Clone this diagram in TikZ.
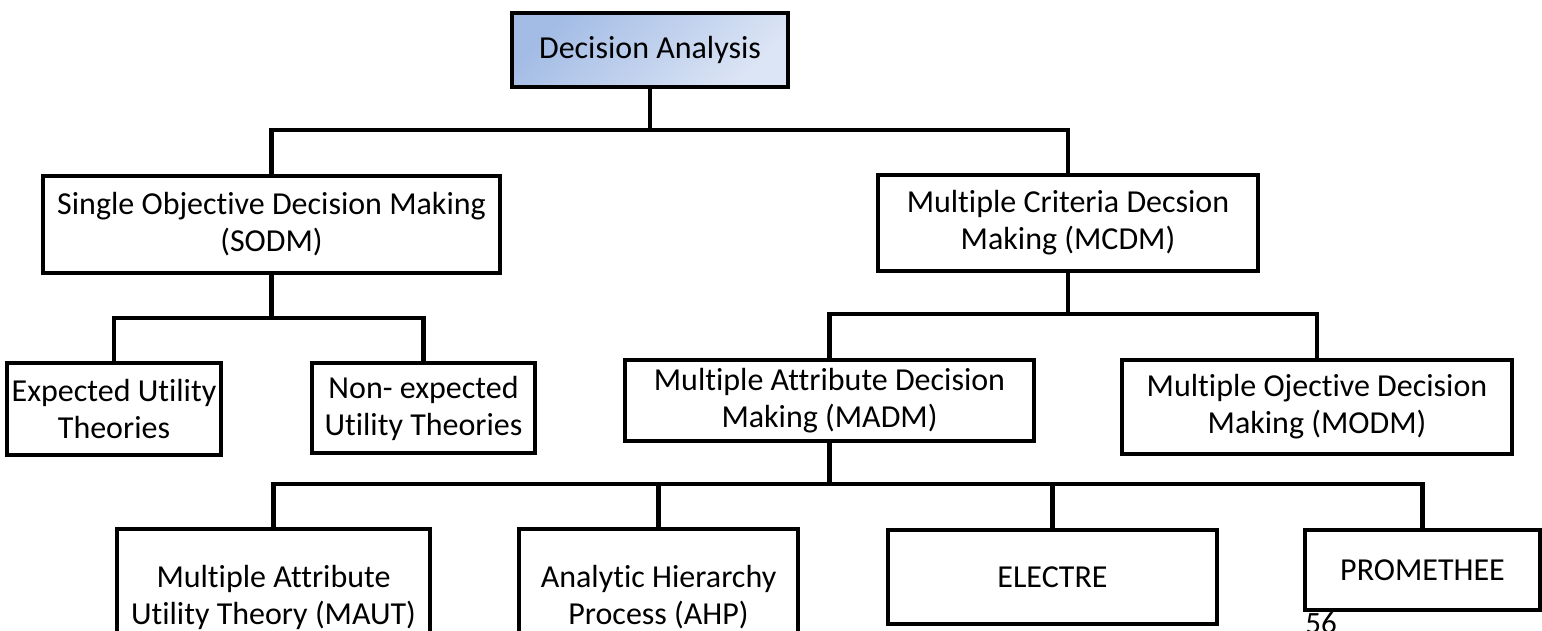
\documentclass[tikz,border=0pt]{standalone}
\usepackage{fontspec}
\setmainfont{Carlito}[Ligatures=NoCommon]
\definecolor{topdark}{RGB}{163,188,229}
\definecolor{toplight}{RGB}{220,229,245}
\begin{document}
\begin{tikzpicture}[x=1pt,y=-1pt,
  box/.style={draw=black, line width=4pt, fill=white, inner sep=0pt, outer sep=0pt,
    align=center, font=\fontsize{32}{37}\selectfont},
  conn/.style={draw=black, line width=4.5pt}]
\useasboundingbox (0,0) rectangle (1542,630);

% page number sitting under the last box
\node[anchor=base, font=\fontsize{31}{31}\selectfont] (pg) at (1321,633) {56};

% root
\node[box, minimum width=276pt, minimum height=74pt,
  top color=topdark, bottom color=toplight, shading angle=45] (root) at (650,50) {Decision Analysis};

% second level
\node[box, minimum width=457pt, minimum height=97pt] (sodm) at (271.5,224.5)
  {Single Objective Decision Making\\(SODM)};
\node[box, minimum width=380pt, minimum height=96pt] (mcdm) at (1068,223)
  {Multiple Criteria Decsion\\Making (MCDM)};

% third level
\node[box, minimum width=214pt, minimum height=92pt] (eut) at (114,409)
  {Expected Utility\\Theories};
\node[box, minimum width=223pt, minimum height=90pt] (neut) at (423.5,408)
  {Non- expected\\Utility Theories};
\node[box, minimum width=409pt, minimum height=81pt] (madm) at (829.5,400.5)
  {Multiple Attribute Decision\\Making (MADM)};
\node[box, minimum width=390pt, minimum height=94pt] (modm) at (1317,407)
  {Multiple Ojective Decision\\Making (MODM)};

% fourth level
\node[box, minimum width=313pt, minimum height=136pt] (maut) at (273.5,597)
  {Multiple Attribute\\Utility Theory (MAUT)};
\node[box, minimum width=279pt, minimum height=136pt] (ahp) at (658.5,597)
  {Analytic Hierarchy\\Process (AHP)};
\node[box, minimum width=329pt, minimum height=94pt] (electre) at (1052.5,577)
  {ELECTRE};
\node[box, minimum width=235pt, minimum height=80pt] (prom) at (1422.5,570)
  {PROMETHEE};

% bus junctions
\coordinate (j1) at (650,130);
\coordinate (j2) at (271.5,318);
\coordinate (j3) at (1068,314);
\coordinate (j4) at (829.5,484);

% connectors
\draw[conn] (root.south) -- (j1);
\draw[conn] (sodm.north) |- (j1) -| (mcdm.north);
\draw[conn] (sodm.south) -- (j2);
\draw[conn] (eut.north) |- (j2) -| (neut.north);
\draw[conn] (mcdm.south) -- (j3);
\draw[conn] (madm.north) |- (j3) -| (modm.north);
\draw[conn] (madm.south) -- (j4);
\draw[conn] (maut.north) |- (j4) -| (prom.north);
\draw[conn] (ahp.north) -- (ahp.north |- j4);
\draw[conn] (electre.north) -- (electre.north |- j4);
\end{tikzpicture}
\end{document}
